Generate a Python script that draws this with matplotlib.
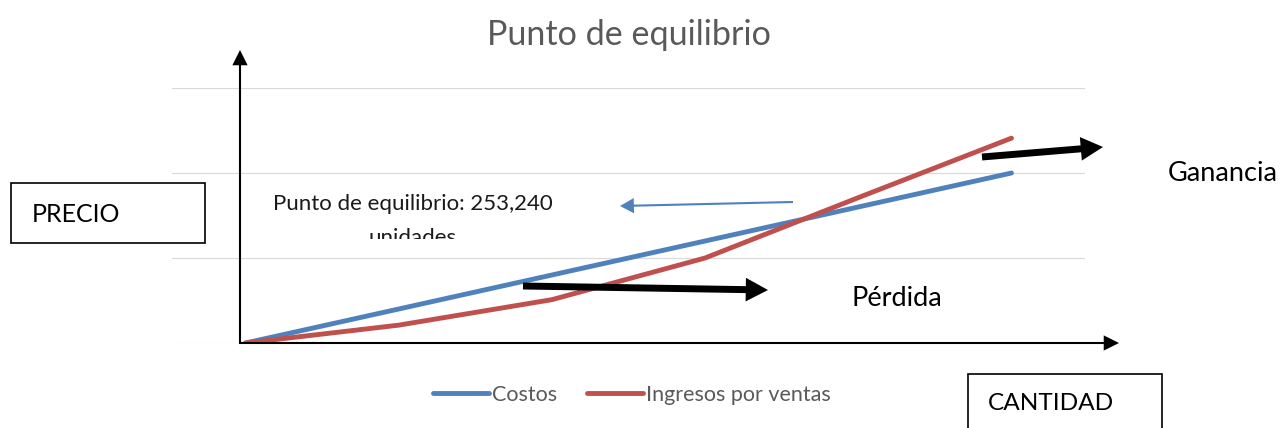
import matplotlib.pyplot as plt
from matplotlib.patches import Rectangle
from matplotlib.transforms import Bbox

plt.rcParams['font.family'] = ['Lato', 'DejaVu Sans']

# datos (unidades arbitrarias, el eje no tiene etiquetas)
cantidad = [0, 1, 2, 3, 4, 5]
costos = [0, 0.4, 0.8, 1.2, 1.6, 2.0]
ingresos = [0, 0.21, 0.51, 1.0, 1.71, 2.41]
lineas_guia = [0, 1, 2, 3]

W, H = 1281, 428
fig = plt.figure(figsize=(W / 100, H / 100), dpi=100)
ax = fig.add_axes([172 / W, 1 - 343 / H, 913 / W, 255 / H])

for g in lineas_guia:
    ax.axhline(g, color='#D9D9D9', lw=0.8, zorder=0)

ax.plot(cantidad, costos, color='#4F81BD', lw=3.5, solid_capstyle='round', label='Costos', zorder=3)
ax.plot(cantidad, ingresos, color='#C0504D', lw=3.5, solid_capstyle='round', label='Ingresos por ventas', zorder=3)

ax.set_xlim(-0.48, 5.48)
ax.set_ylim(0, 3)
ax.set_xticks([])
ax.set_yticks([])
for s in ax.spines.values():
    s.set_visible(False)

fig.text(629 / W, 1 - 35 / H, 'Punto de equilibrio', ha='center', va='center',
         fontsize=24.6, color='#595959')


# flechas dibujadas (coordenadas en pixeles de la figura, y desde abajo)
def flecha(x0, y0, x1, y1, ancho, cabeza, largo, color='black'):
    ax.annotate('', xy=(x1, H - y1), xytext=(x0, H - y0), xycoords='figure pixels',
                textcoords='figure pixels', annotation_clip=False,
                arrowprops=dict(width=ancho, headwidth=cabeza, headlength=largo,
                                facecolor=color, edgecolor=color, lw=0))


flecha(240, 344, 240, 50, 1.5, 11, 11)      # eje Y
flecha(239, 343, 1119, 343, 1.5, 11, 11)    # eje X
flecha(523, 286, 768, 290, 5, 17, 16)       # perdida
flecha(982, 157, 1103, 147, 5, 17, 16)      # ganancia
flecha(793, 202, 620, 206, 1.5, 11, 10, color='#4F81BD')

# textos
fig.text(852 / W, 1 - 298 / H, 'Pérdida', ha='left', va='center', fontsize=19.5, color='black')
fig.text(1168 / W, 1 - 173 / H, 'Ganancia', ha='left', va='center', fontsize=19.5, color='black')

# cuadro de texto recortado en su borde inferior
recorte = Bbox([[0, H - 239], [W, H]])
for linea, base in [('Punto de equilibrio: 253,240', 210), ('unidades', 244)]:
    t = fig.text(413 / W, 1 - base / H, linea, ha='center', va='baseline',
                 fontsize=16, color='#1a1a1a')
    t.set_clip_box(recorte)
    t.set_clip_on(True)

# cajas de PRECIO y CANTIDAD
fig.patches.append(Rectangle((11 / W, 1 - 243 / H), 194 / W, 60 / H, transform=fig.transFigure,
                             fill=False, edgecolor='black', lw=1.2))
fig.text(32 / W, 1 - 214 / H, 'PRECIO', ha='left', va='center', fontsize=18)
fig.patches.append(Rectangle((968 / W, -0.05), 194 / W, 0.05 + 54 / H, transform=fig.transFigure,
                             fill=False, edgecolor='black', lw=1.2))
fig.text(988 / W, 1 - 404 / H, 'CANTIDAD', ha='left', va='center', fontsize=17.6)

leg = fig.legend(loc='center', bbox_to_anchor=(632 / W, 1 - 395 / H), ncol=2, frameon=False,
                 fontsize=15.5, handlelength=2.6, handletextpad=0.12, columnspacing=1.4,
                 labelcolor='#595959')

fig.savefig('out.png', dpi=100)
